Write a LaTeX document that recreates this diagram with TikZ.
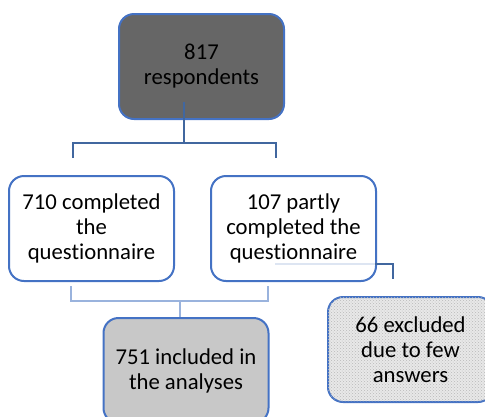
\documentclass[tikz,border=0pt]{standalone}
\usepackage{fontspec}
\setmainfont{Carlito}[Ligatures=NoCommon]
\usetikzlibrary{patterns}
\definecolor{boxblue}{HTML}{4472C4}
\definecolor{linkblue}{HTML}{41679F}
\definecolor{lightlink}{HTML}{9AB3DD}
\definecolor{faintlink}{HTML}{DDE5F2}
\definecolor{darkfill}{HTML}{666666}
\definecolor{midfill}{HTML}{C8C8C8}
\begin{document}
\begin{tikzpicture}[x=1pt,y=-1pt,
  flowbox/.style={draw=boxblue, line width=2pt, rounded corners=15pt,
    minimum width=165pt, minimum height=105pt, align=center, inner sep=0pt,
    font=\fontsize{22.7}{25}\selectfont, text=black},
  treeline/.style={draw=linkblue, line width=2pt},
  brackline/.style={draw=lightlink, line width=1.2pt},
  faintline/.style={draw=faintlink, line width=1.5pt}]
\useasboundingbox (0,0) rectangle (485,416);
\begin{scope}
\clip (0,0) rectangle (485,416);
\node[flowbox, fill=darkfill] (top) at (201.5,66.5) {817\\respondents};
\node[flowbox, fill=white] (left) at (91.5,228.5) {710 completed\\the\\questionnaire};
\node[flowbox, fill=white] (right) at (293.5,228.5) {107 partly\\completed the\\questionnaire};
\node[flowbox, fill=midfill] (incl) at (186,370.5) {751 included in\\the analyses};
\node[flowbox, fill=gray!18, postaction={pattern=crosshatch dots, pattern color=gray!55}] (excl) at (410.5,349.5) {};
\node[font=\fontsize{22.7}{25}\selectfont, align=center, text=black] (excltext) at (excl.center) {66 excluded\\due to few\\answers};
\end{scope}
% tree from top box
\coordinate (tstart) at (184,102);
\coordinate (tjoin) at (184,143);
\coordinate (tl) at (73,158);
\coordinate (tr) at (276,158);
\draw[treeline] (tstart) -- (tjoin);
\draw[treeline] (tl) -- (tl |- tjoin) -- (tr |- tjoin) -- (tr);
% bracket to included
\coordinate (bl) at (71,286);
\coordinate (br) at (268,286);
\coordinate (bjoin) at (180,301);
\draw[brackline] (bl) -- (bl |- bjoin) -- (br |- bjoin) -- (br);
\draw[brackline] (bjoin) -- (bjoin |- incl.north);
% line to excluded
\coordinate (ea) at (275,264);
\coordinate (eb) at (375,264);
\coordinate (ec) at (393,279);
\draw[faintline] (ea) -- (eb);
\draw[treeline] (eb) -- (ec |- eb) -- (ec);
\end{tikzpicture}
\end{document}
